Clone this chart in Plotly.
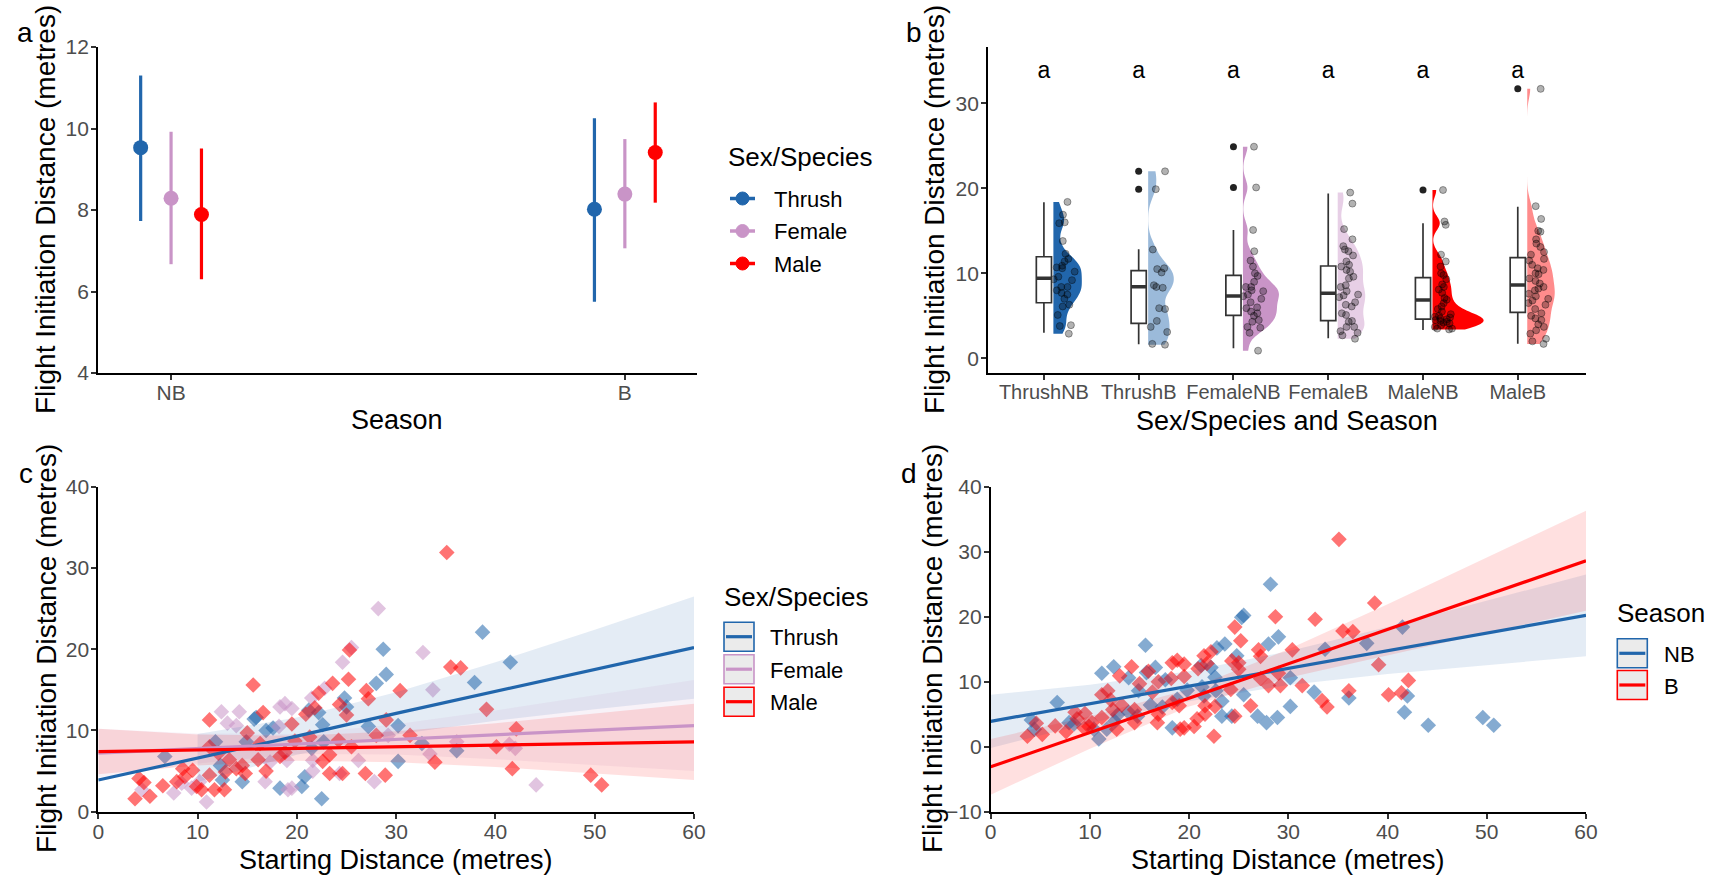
import plotly.graph_objects as go

W, H = 1715, 877
def px(v): return v / W
def py(v): return 1 - v / H

FONT = "Liberation Sans, Arial, sans-serif"
C_THRUSH, C_FEMALE, C_MALE = "#2166AC", "#C994C7", "#FF0000"

def rgba(hexc, a):
    h = hexc.lstrip("#")
    r, g, b = int(h[0:2], 16), int(h[2:4], 16), int(h[4:6], 16)
    return f"rgba({r},{g},{b},{a})"

# ---------------- Panel a: mean FID with intervals ----------------
seasons = ["NB", "B"]
species = ["Thrush", "Female", "Male"]
a_thrush_mean = [9.53, 8.02]
a_thrush_low = [7.73, 5.75]
a_thrush_high = [11.30, 10.25]
a_female_mean = [8.29, 8.39]
a_female_low = [6.67, 7.06]
a_female_high = [9.92, 9.74]
a_male_mean = [7.89, 9.41]
a_male_low = [6.30, 8.18]
a_male_high = [9.51, 10.64]

# ---------------- Panel b: raincloud ----------------
b_groups = ["ThrushNB", "ThrushB", "FemaleNB", "FemaleB", "MaleNB", "MaleB"]
b_letters = ["a", "a", "a", "a", "a", "a"]
b_letter_y = 33.6
b_thrush_nb = [18.4, 16.9, 16.0, 15.9, 13.8, 12.3, 11.7, 11.4, 10.9, 10.7, 10.6, 10.2, 9.6, 9.3,
               9.2, 8.4, 8.4, 8.0, 7.7, 7.5, 7.0, 6.3, 6.1, 5.1, 3.9, 3.8, 2.9]
b_thrush_b = [22.0, 19.9, 12.8, 10.6, 10.5, 10.1, 8.6, 8.4, 8.3, 5.9, 5.8, 4.4, 3.7, 3.1, 1.7, 1.6]
b_female_nb = [24.9, 20.1, 15.1, 12.6, 11.5, 10.8, 10.0, 9.7, 9.0, 8.4, 8.4, 8.0, 7.9, 7.5, 7.3,
               7.0, 6.6, 6.0, 5.9, 5.5, 5.3, 5.0, 4.5, 4.3, 3.7, 3.6, 3.0, 0.9]
b_female_b = [19.5, 18.2, 15.2, 14.0, 13.2, 12.8, 12.6, 12.1, 11.4, 11.0, 10.8, 10.4, 10.2, 9.6,
              9.4, 8.6, 8.4, 7.9, 7.5, 7.4, 7.2, 6.6, 6.3, 6.1, 5.3, 5.1, 4.4, 4.3, 3.7, 3.7,
              3.2, 3.0, 2.7, 2.3]
b_male_nb = [19.8, 16.1, 15.7, 12.2, 11.4, 10.8, 10.0, 9.8, 9.3, 8.7, 8.4, 8.1, 7.7, 7.1, 6.9,
             6.5, 6.1, 5.8, 5.5, 5.2, 5.0, 4.9, 4.8, 4.7, 4.6, 4.5, 4.4, 4.3, 4.2, 4.1, 3.9,
             3.7, 3.5, 3.5, 3.4]
b_male_b = [31.7, 17.9, 16.4, 15.0, 14.9, 14.0, 13.5, 13.1, 12.5, 12.2, 11.7, 11.5, 11.0, 10.6,
            10.4, 10.0, 9.9, 9.4, 9.1, 8.8, 8.4, 8.2, 8.0, 7.6, 7.3, 7.0, 6.8, 6.5, 6.3, 5.8,
            5.3, 5.0, 4.7, 4.5, 4.0, 3.7, 3.3, 2.9, 2.3, 2.0, 1.7]
b_q1 = [6.54, 4.12, 5.06, 4.43, 4.62, 5.41]
b_median = [9.41, 8.43, 7.33, 7.65, 6.86, 8.62]
b_q3 = [11.95, 10.31, 9.76, 10.86, 9.49, 11.84]
b_lowfence = [3.0, 1.65, 1.18, 2.35, 3.33, 1.72]
b_highfence = [18.35, 12.82, 15.1, 19.4, 15.9, 17.84]
b_outlier_group = ["ThrushB", "ThrushB", "FemaleNB", "FemaleNB", "MaleNB", "MaleB"]
b_outlier_value = [22.0, 19.9, 24.9, 20.1, 19.8, 31.7]

# ---------------- Panels c/d: FID vs starting distance ----------------
thrush_sd = [6.7, 11.8, 12.3, 12.5, 14.5, 14.9, 15.7, 15.9, 16.9, 17.6, 18.3, 20.5, 20.8, 21.2,
             21.5, 22.5, 22.6, 24.8, 25.0, 28.0, 28.7, 29.0, 27.2, 30.2, 30.2, 32.6, 36.1, 37.9,
             38.7, 41.5, 22.7, 22.2]
thrush_fid = [6.8, 8.6, 5.7, 3.9, 3.7, 8.6, 11.4, 11.6, 10.0, 10.3, 2.9, 3.1, 4.3, 12.5,
              7.8, 1.6, 10.7, 14.0, 12.9, 15.8, 20.0, 16.9, 10.5, 10.6, 6.2, 8.4, 7.5, 15.9,
              22.1, 18.4, 8.6, 12.2]
thrush_season = ["NB", "B", "B", "NB", "B", "NB", "NB", "B", "B", "NB", "NB", "B", "B", "NB",
                 "NB", "B", "NB", "NB", "B", "NB", "B", "NB", "B", "NB", "NB", "NB", "NB", "NB",
                 "B", "NB", "NB", "NB"]
female_sd = [4.4, 7.6, 8.4, 9.4, 10.2, 10.9, 12.4, 13.0, 13.9, 14.2, 16.8, 17.3, 18.2, 18.3,
             18.8, 19.0, 19.1, 19.5, 19.5, 21.5, 21.6, 22.8, 24.6, 25.5, 26.2, 27.8, 28.2, 29.2,
             32.7, 33.7, 33.4, 36.1, 41.4, 42.0, 44.1, 24.3, 21.6]
female_fid = [2.7, 2.3, 3.5, 2.9, 3.7, 1.2, 12.3, 10.9, 10.6, 12.3, 3.7, 6.1, 10.5, 12.9,
              13.3, 6.3, 2.7, 2.9, 12.7, 14.0, 6.3, 15.2, 18.4, 20.2, 6.3, 3.7, 25.0, 9.4,
              19.6, 15.0, 7.1, 8.6, 8.3, 7.8, 3.3, 4.7, 5.0]
female_season = ["NB", "B", "NB", "B", "B", "NB", "NB", "B", "NB", "B", "B", "NB", "B", "B",
                 "B", "B", "B", "B", "B", "B", "B", "NB", "B", "NB", "B", "NB", "NB", "B",
                 "B", "NB", "B", "B", "B", "NB", "NB", "NB", "B"]
male_sd = [3.7, 4.1, 4.6, 5.2, 6.5, 7.9, 8.5, 8.7, 9.5, 9.9, 10.4, 11.2, 11.2, 11.2, 11.7,
           12.1, 12.7, 12.8, 13.2, 13.9, 14.5, 14.8, 15.0, 15.6, 16.1, 16.3, 16.6, 16.9, 18.3,
           18.8, 19.5, 19.8, 20.9, 21.3, 21.8, 22.2, 22.6, 23.3, 23.3, 23.6, 24.3, 24.6, 25.0,
           25.2, 25.3, 25.5, 26.9, 27.0, 27.2, 28.0, 28.9, 29.0, 30.4, 31.4, 33.9, 35.1, 35.5,
           36.5, 39.1, 40.1, 41.7, 42.1, 49.6, 50.7, 24.2]
male_fid = [1.6, 4.1, 3.6, 1.9, 3.2, 3.7, 5.3, 4.3, 5.1, 3.1, 2.7, 11.3, 8.0, 4.5, 2.7,
            7.2, 2.7, 4.9, 6.4, 5.3, 5.7, 4.7, 9.7, 15.6, 6.4, 8.4, 12.2, 5.0, 6.8,
            7.3, 10.8, 8.7, 12.0, 9.2, 12.8, 14.6, 6.2, 7.0, 4.7, 15.8, 13.2, 4.7, 11.9,
            16.3, 19.9, 8.0, 4.7, 14.9, 13.9, 9.4, 4.5, 11.3, 14.9, 9.4, 6.1, 31.9, 17.8,
            17.7, 12.6, 8.0, 5.3, 10.2, 4.5, 3.3, 8.8]
male_season = ["B", "NB", "B", "B", "B", "NB", "B", "B", "B", "B", "NB", "NB", "B", "B", "NB",
               "B", "B", "NB", "B", "NB", "B", "NB", "B", "NB", "NB", "B", "NB", "B", "B",
               "NB", "B", "NB", "B", "NB", "B", "B", "B", "NB", "NB", "NB", "B", "B", "B",
               "B", "NB", "NB", "NB", "B", "B", "B", "NB", "B", "B", "B", "B", "B", "B",
               "B", "B", "B", "NB", "B", "NB", "NB", "B"]

# fitted lines and confidence bands
fit_x = [0, 10, 20, 30, 40, 50, 60]
fit_thrush = [3.9, 6.6, 9.3, 12.1, 14.8, 17.5, 20.2]
fit_thrush_lo = [-0.2, 3.65, 7.0, 9.5, 11.2, 12.6, 13.9]
fit_thrush_hi = [8.0, 9.55, 11.6, 14.7, 18.4, 22.4, 26.5]
fit_female = [7.2, 7.77, 8.33, 8.9, 9.47, 10.03, 10.6]
fit_female_lo = [4.2, 5.92, 7.09, 7.05, 6.47, 5.75, 5.0]
fit_female_hi = [10.2, 9.62, 9.57, 10.75, 12.47, 14.31, 16.2]
fit_male = [7.4, 7.6, 7.8, 8.0, 8.2, 8.4, 8.6]
fit_male_lo = [4.6, 5.7, 6.26, 6.1, 5.5, 4.73, 3.9]
fit_male_hi = [10.2, 9.5, 9.34, 9.9, 10.9, 12.07, 13.3]
fit_nb = [3.9, 6.6, 9.3, 12.1, 14.8, 17.5, 20.2]
fit_nb_lo = [-0.2, 3.65, 7.0, 9.5, 11.2, 12.6, 13.9]
fit_nb_hi = [8.0, 9.55, 11.6, 14.7, 18.4, 22.4, 26.5]
fit_b = [-3.1, 2.2, 7.5, 12.8, 18.0, 23.3, 28.6]
fit_b_lo = [-7.4, -0.3, 6.17, 10.62, 14.08, 17.5, 20.9]
fit_b_hi = [1.2, 4.7, 8.83, 14.98, 21.92, 29.1, 36.3]

fig = go.Figure()

# ---------- Panel a ----------
a_sets = [("Thrush", C_THRUSH, a_thrush_mean, a_thrush_low, a_thrush_high, -0.067),
          ("Female", C_FEMALE, a_female_mean, a_female_low, a_female_high, 0.0),
          ("Male", C_MALE, a_male_mean, a_male_low, a_male_high, 0.067)]
for name, col, m, lo, hi, off in a_sets:
    xs = [i + 1 + off for i in range(len(seasons))]
    fig.add_trace(go.Scatter(
        x=xs, y=m, mode="markers", xaxis="x", yaxis="y", showlegend=False, name=name,
        marker=dict(color=col, size=15),
        error_y=dict(type="data", symmetric=False,
                     array=[h - v for h, v in zip(hi, m)],
                     arrayminus=[v - l for v, l in zip(m, lo)],
                     color=col, thickness=3.2, width=0)))

# ---------- Panel b ----------
b_values = [b_thrush_nb, b_thrush_b, b_female_nb, b_female_b, b_male_nb, b_male_b]
b_colors = [C_THRUSH, rgba(C_THRUSH, 0.45), C_FEMALE, rgba(C_FEMALE, 0.45),
            C_MALE, rgba(C_MALE, 0.45)]
b_violin_half = [0.30, 0.27, 0.38, 0.29, 0.54, 0.29]
b_bandwidth = [1.1, 1.2, 1.0, 1.2, 0.8, 1.1]
for i, (g, vals) in enumerate(zip(b_groups, b_values)):
    pos = i + 1
    fig.add_trace(go.Violin(
        x=[pos + 0.1] * len(vals), y=vals, xaxis="x2", yaxis="y2", side="positive",
        width=2 * b_violin_half[i], spanmode="hard", bandwidth=b_bandwidth[i],
        fillcolor=b_colors[i], line=dict(width=0, color="rgba(0,0,0,0)"), opacity=1,
        points=False, showlegend=False, scalemode="width", hoverinfo="skip"))
for i, (g, vals) in enumerate(zip(b_groups, b_values)):
    pos = i + 1
    fig.add_trace(go.Box(
        x=[pos + 0.22] * len(vals), y=vals, xaxis="x2", yaxis="y2", width=0.24,
        boxpoints="all", jitter=1.0, pointpos=0, fillcolor="rgba(0,0,0,0)",
        line=dict(color="rgba(0,0,0,0)", width=0), whiskerwidth=0,
        marker=dict(color="rgba(0,0,0,0.3)", size=7,
                    line=dict(color="rgba(0,0,0,0.35)", width=1)),
        showlegend=False, hoverinfo="skip"))
fig.add_trace(go.Box(
    x=list(range(1, len(b_groups) + 1)), q1=b_q1, median=b_median, q3=b_q3,
    lowerfence=b_lowfence, upperfence=b_highfence, xaxis="x2", yaxis="y2",
    width=0.16, fillcolor="white", line=dict(color="#333333", width=1.7),
    boxpoints=False, showlegend=False, whiskerwidth=0))
for i, med in enumerate(b_median):
    pos = i + 1
    fig.add_trace(go.Scatter(
        x=[pos - 0.08, pos + 0.08], y=[med, med], mode="lines", xaxis="x2", yaxis="y2",
        line=dict(color="#333333", width=3.5), showlegend=False, hoverinfo="skip"))
fig.add_trace(go.Scatter(
    x=[b_groups.index(g) + 1 for g in b_outlier_group], y=b_outlier_value, mode="markers",
    xaxis="x2", yaxis="y2", marker=dict(color="#222222", size=7), showlegend=False))
fig.add_trace(go.Scatter(
    x=list(range(1, len(b_groups) + 1)), y=[b_letter_y] * len(b_groups), text=b_letters,
    mode="text", xaxis="x2", yaxis="y2", textfont=dict(size=23, color="black", family=FONT),
    showlegend=False))

# ---------- Panel c ----------
def band(xv, lo, hi, ymin):
    keep = [k for k in range(len(xv)) if lo[k] >= ymin]
    bx = [xv[k] for k in keep]
    return bx + bx[::-1], [hi[k] for k in keep] + [lo[k] for k in keep][::-1]

c_sets = [("Thrush", C_THRUSH, thrush_sd, thrush_fid, fit_thrush, fit_thrush_lo, fit_thrush_hi),
          ("Female", C_FEMALE, female_sd, female_fid, fit_female, fit_female_lo, fit_female_hi),
          ("Male", C_MALE, male_sd, male_fid, fit_male, fit_male_lo, fit_male_hi)]
for name, col, sx, sy, *_ in c_sets:
    fig.add_trace(go.Scatter(
        x=sx, y=sy, mode="markers", xaxis="x3", yaxis="y3", showlegend=False,
        marker=dict(symbol="diamond", size=12, color=rgba(col, 0.55), line=dict(width=0))))
for name, col, sx, sy, fit, lo, hi in c_sets:
    bx, by = band(fit_x, lo, hi, 0)
    fig.add_trace(go.Scatter(
        x=bx, y=by, fill="toself", mode="lines", line=dict(width=0), xaxis="x3", yaxis="y3",
        fillcolor=rgba(col, 0.12), showlegend=False, hoverinfo="skip"))
for name, col, sx, sy, fit, lo, hi in c_sets:
    fig.add_trace(go.Scatter(
        x=fit_x, y=fit, mode="lines", xaxis="x3", yaxis="y3", showlegend=False,
        line=dict(color=col, width=3.2)))

# ---------- Panel d ----------
all_sd = thrush_sd + female_sd + male_sd
all_fid = thrush_fid + female_fid + male_fid
all_season = thrush_season + female_season + male_season
d_sets = [("NB", C_THRUSH, fit_nb, fit_nb_lo, fit_nb_hi),
          ("B", C_MALE, fit_b, fit_b_lo, fit_b_hi)]
for name, col, *_ in d_sets:
    idx = [k for k, s in enumerate(all_season) if s == name]
    fig.add_trace(go.Scatter(
        x=[all_sd[k] for k in idx], y=[all_fid[k] for k in idx], mode="markers",
        xaxis="x4", yaxis="y4", showlegend=False,
        marker=dict(symbol="diamond", size=12, color=rgba(col, 0.55), line=dict(width=0))))
for name, col, fit, lo, hi in d_sets:
    bx, by = band(fit_x, lo, hi, -10)
    fig.add_trace(go.Scatter(
        x=bx, y=by, fill="toself", mode="lines", line=dict(width=0), xaxis="x4", yaxis="y4",
        fillcolor=rgba(col, 0.12), showlegend=False, hoverinfo="skip"))
for name, col, fit, lo, hi in d_sets:
    fig.add_trace(go.Scatter(
        x=fit_x, y=fit, mode="lines", xaxis="x4", yaxis="y4", showlegend=False,
        line=dict(color=col, width=3.2)))

# ---------- Layout ----------
def axis_style(**kw):
    d = dict(showline=True, linecolor="black", linewidth=1.8, ticks="outside", ticklen=5,
             tickwidth=1.6, tickcolor="#333333", showgrid=False, zeroline=False,
             automargin=False,
             tickfont=dict(size=21, color="#4D4D4D", family=FONT), fixedrange=True)
    d.update(kw)
    return d

XSO, YSO = -5, -2
fig.update_layout(
    width=W, height=H, margin=dict(l=0, r=0, t=0, b=0, autoexpand=False),
    paper_bgcolor="white", plot_bgcolor="white", font=dict(family=FONT, color="black"),
    boxmode="overlay", violinmode="overlay", showlegend=False,
    xaxis=axis_style(domain=[px(98), px(697)], range=[0.839, 2.159], tickvals=[1, 2],
                     ticktext=seasons, anchor="y", ticklabelstandoff=XSO),
    yaxis=axis_style(domain=[py(373), py(47)], range=[4, 12], dtick=2, anchor="x",
                     ticklabelstandoff=YSO),
    xaxis2=axis_style(domain=[px(988), px(1586)], range=[0.41, 6.72],
                      tickvals=list(range(1, 7)), ticktext=b_groups, anchor="y2",
                      ticklabelstandoff=XSO,
                      tickfont=dict(size=20, color="#4D4D4D", family=FONT)),
    yaxis2=axis_style(domain=[py(372.7), py(46.7)], range=[-1.69, 36.66],
                      tickvals=[0, 10, 20, 30], anchor="x2", ticklabelstandoff=YSO),
    xaxis3=axis_style(domain=[px(98.3), px(694)], range=[0, 60], dtick=10, anchor="y3",
                      ticklabelstandoff=XSO),
    yaxis3=axis_style(domain=[py(811.7), py(486.7)], range=[0, 40], dtick=10, anchor="x3",
                      ticklabelstandoff=YSO),
    xaxis4=axis_style(domain=[px(990.7), px(1586)], range=[0, 60], dtick=10, anchor="y4",
                      ticklabelstandoff=XSO),
    yaxis4=axis_style(domain=[py(811.7), py(486.7)], range=[-10, 40], dtick=10, anchor="x4",
                      ticklabelstandoff=YSO),
)

ann = []
shapes = []
def label(text, x, y, size=28, angle=0, xanchor="center"):
    ann.append(dict(text=text, x=px(x), y=py(y), xref="paper", yref="paper", showarrow=False,
                    xanchor=xanchor, yanchor="middle", textangle=angle,
                    font=dict(size=size, color="black", family=FONT)))
ytitle = "Flight Initiation Distance (metres)"
label(ytitle, 46, 210, angle=-90)
label("Season", 397, 420, size=27)
label(ytitle, 935, 210, angle=-90)
label("Sex/Species and Season", 1287, 421, size=27)
label(ytitle, 46, 649, angle=-90)
label("Starting Distance (metres)", 396, 860, size=27)
label(ytitle, 932, 649, angle=-90)
label("Starting Distance (metres)", 1288, 860, size=27)
label("a", 25, 33)
label("b", 914, 33)
label("c", 26, 473)
label("d", 909, 473)

# legend for panel a (point-range key)
def point_legend(title, names, colors, x0, title_y, row_y, text_x):
    label(title, x0 - 2, title_y, size=26, xanchor="left")
    for nm, col, yc in zip(names, colors, row_y):
        shapes.append(dict(type="line", xref="paper", yref="paper",
                           x0=px(x0 + 2), x1=px(x0 + 27), y0=py(yc), y1=py(yc),
                           line=dict(color=col, width=3.5)))
        shapes.append(dict(type="circle", xref="paper", yref="paper",
                           x0=px(x0 + 8), x1=px(x0 + 21), y0=py(yc + 6.5), y1=py(yc - 6.5),
                           fillcolor=col, line=dict(color=col, width=1)))
        label(nm, text_x, yc + 1, size=22, xanchor="left")

# legends for panels c and d (key box with line, as in the original)
def key_legend(title, names, colors, x0, title_y, row_y, text_x):
    label(title, x0 - 2, title_y, size=26, xanchor="left")
    for nm, col, yc in zip(names, colors, row_y):
        shapes.append(dict(type="rect", xref="paper", yref="paper",
                           x0=px(x0), x1=px(x0 + 30), y0=py(yc + 14.5), y1=py(yc - 14.5),
                           fillcolor="#EBEBEB", line=dict(color=col, width=1.6)))
        shapes.append(dict(type="line", xref="paper", yref="paper",
                           x0=px(x0 + 2), x1=px(x0 + 28), y0=py(yc), y1=py(yc),
                           line=dict(color=col, width=3.2)))
        label(nm, text_x, yc + 1, size=22, xanchor="left")

point_legend("Sex/Species", species, [C_THRUSH, C_FEMALE, C_MALE], 728, 157,
             [198.5, 231.0, 263.5], 771.5)
key_legend("Sex/Species", species, [C_THRUSH, C_FEMALE, C_MALE], 724, 597,
           [636.7, 669.2, 701.7], 768)
key_legend("Season", seasons, [C_THRUSH, C_MALE], 1617.3, 612.7, [653.3, 685.0], 1661.5)

fig.update_layout(annotations=ann, shapes=shapes)

fig.write_html("out.html", config={"displayModeBar": False},
               post_script="document.body.style.margin='0px';")
